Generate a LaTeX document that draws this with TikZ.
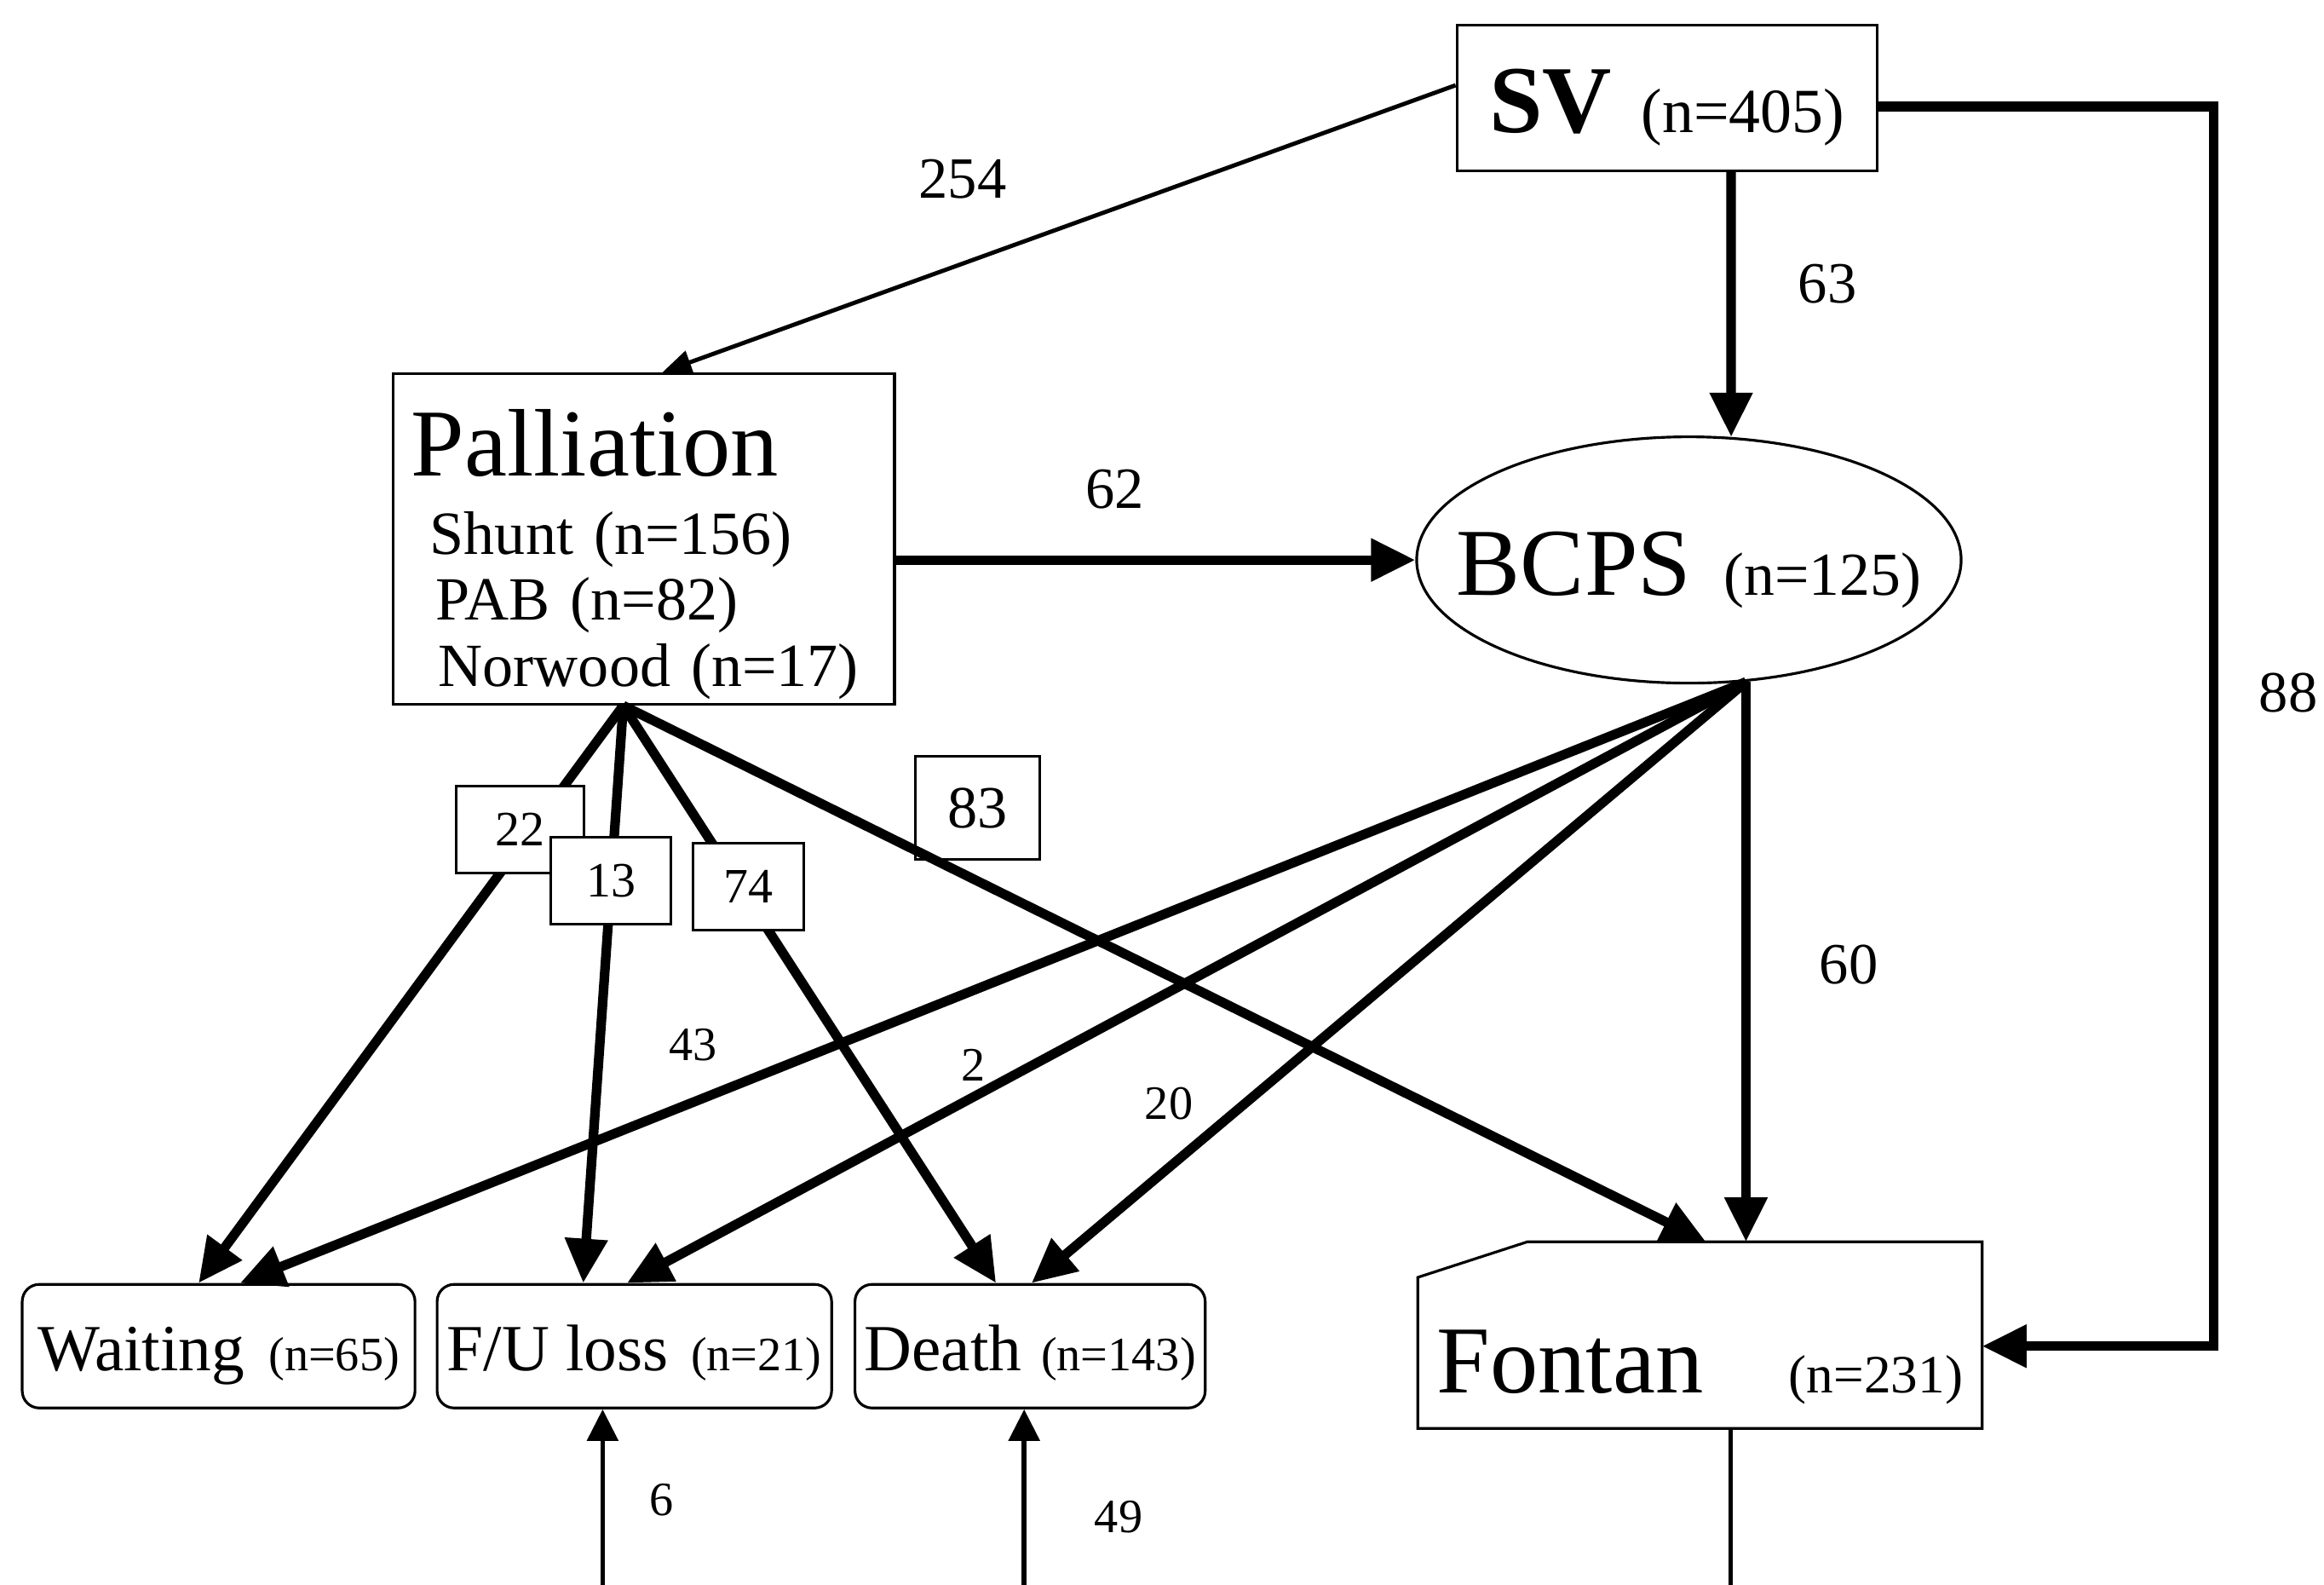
\documentclass[tikz,border=0pt]{standalone}
\usepackage{fontspec}
\setmainfont{Liberation Serif}
\usetikzlibrary{positioning,calc,arrows.meta,shapes.geometric}

\newcommand{\sizeL}{\fontsize{32}{36}\selectfont}
\newcommand{\sizeM}{\fontsize{20.5}{22}\selectfont}
\newcommand{\sizeO}{\fontsize{22}{24}\selectfont}
\newcommand{\sizeS}{\fontsize{16}{18}\selectfont}

\begin{document}
\begin{tikzpicture}[
    x=0.0174cm, y=-0.0174cm,
    font=\sizeM,
    box/.style={rectangle,draw,line width=0.9pt,inner sep=0pt},
    outcome/.style={box,rounded corners=0.2cm,minimum height=1.45cm,text height=16.2pt,text depth=0pt},
    numbox/.style={box,fill=white,minimum height=1.02cm,font=\fontsize{16.5}{18}\selectfont},
    toplbl/.style={font=\fontsize{19.5}{22}\selectfont},
    lowlbl/.style={font=\sizeS},
    heavy/.style={-{Triangle[length=0.52cm,width=0.48cm]},line width=3.2pt},
    light/.style={-{Triangle[length=0.37cm,width=0.36cm]},line width=1.6pt},
    fine/.style={-{Triangle[length=0.34cm,width=0.28cm]},line width=1.4pt}
]
\useasboundingbox (0,0) rectangle (1568,1069);

% stages
\node[box, minimum width=4.93cm, minimum height=1.71cm, text height=23.2pt, text depth=0pt] (sv) at (1124.7,65.9) {{\bfseries\sizeL SV}\hspace{9.8pt}{\fontsize{21}{24}\selectfont(n=405)}};
\node[box, minimum width=5.88cm, minimum height=3.88cm, inner xsep=0.21cm, text width=5.46cm, align=left] (pall) at (434.5,363.5) {\rule{0pt}{32.6pt}{\sizeL Palliation}\\[4.1pt]
  \hspace*{0.22cm}Shunt (n=156)\\
  \hspace*{0.29cm}PAB (n=82)\\
  \hspace*{0.32cm}Norwood (n=17)};
\node[ellipse, draw, line width=0.9pt, inner sep=0pt, minimum width=6.39cm, minimum height=2.89cm, text height=23.4pt, text depth=0pt] (bcps) at (1139.5,377.7) {\makebox[0pt]{{\sizeL BCPS}\hspace{10.9pt}{\fontsize{20.4}{22}\selectfont(n=125)}}};
\node[minimum width=6.61cm, minimum height=2.175cm, inner sep=0pt, text height=38.8pt, text depth=0pt] (fontan) at (1147,900.5) {{\sizeL Fontan}\hspace{28.6pt}{\fontsize{18}{20}\selectfont(n=231)}};
\draw[line width=0.9pt] (fontan.south west) -- ($(fontan.north west)+(0,24)$) -- ($(fontan.north west)+(74,0)$) -- (fontan.north east) -- (fontan.south east) -- cycle;

% outcomes
\node[outcome, minimum width=4.61cm] (wait) at (147.5,908) {\sizeO Waiting\hspace{8pt}\sizeS(n=65)};
\node[outcome, minimum width=4.63cm] (fuloss) at (428,908) {\sizeO F/U loss\hspace{7.5pt}\sizeS(n=21)};
\node[outcome, minimum width=4.11cm] (death) at (695,908) {\sizeO Death\hspace{6.5pt}\sizeS(n=143)};

\coordinate (pfan) at ($(pall.south)+(-14,0)$);
\coordinate (bfan) at ($(bcps.south)+(38.5,-1.7)$);
\coordinate (fuin) at (406.6,1069);
\coordinate (dein) at (691,1069);
\coordinate (fout) at (1167.6,1069);

% from SV
\draw[fine] ($(sv.west)+(0,-8.4)$) -- ($(pall.north)+(12.5,0)$);
\draw[heavy] ($(sv.south)+(43.3,0)$) -- ($(bcps.north)+(28.5,1)$);
\draw[heavy] ($(sv.east)+(0,6)$) -- ++(226.3,0) |- ($(fontan.east)+(0,7.5)$);

% from palliation
\draw[heavy] (pall.east |- bcps.west) -- (bcps.west);
\draw[heavy] (pfan) -- node[numbox, minimum width=1.5cm, pos=0.215, xshift=-0.14cm] (n22) {22} ($(wait.north)+(-13.5,0)$);
\draw[heavy] (pfan) -- node[numbox, minimum width=1.41cm, pos=0.303] (n13) {13} ($(fuloss.north)+(-34.5,0)$);
\draw[heavy] (pfan) -- node[numbox, minimum width=1.3cm, pos=0.313, xshift=0.1cm] (n74) {74} ($(death.north)+(-23,0)$);
\node[numbox, minimum width=1.46cm, minimum height=1.21cm, font=\fontsize{20}{22}\selectfont] (n83) at (659.7,545) {83};
\draw[heavy] (pfan) -- ($(fontan.north)+(4,0)$);

% from BCPS
\draw[heavy] (bfan) -- ($(wait.north)+(14.5,0)$);
\draw[heavy] (bfan) -- ($(fuloss.north)+(-5,0)$);
\draw[heavy] (bfan) -- ($(death.north)+(1,0)$);
\draw[heavy] (bfan) -- (bfan |- fontan.north);

% from below
\draw[light] (fuin) -- (fuin |- fuloss.south);
\draw[light] (dein) -- (dein |- death.south);
\draw[line width=1.6pt] (fontan.south -| fout) -- (fout);

% counts
\node[toplbl] (l254) at (649.5,120.7) {254};
\node[toplbl] (l63) at (1232.9,191.3) {63};
\node[toplbl] (l62) at (752,330) {62};
\node[toplbl] (l88) at (1544,467.5) {88};
\node[toplbl] (l60) at (1247.4,650.4) {60};
\node[lowlbl] (l43) at (467.7,705) {43};
\node[lowlbl] (l2) at (656.8,718.5) {2};
\node[lowlbl] (l20) at (788.6,744.4) {20};
\node[lowlbl] (l6) at (446.5,1011.6) {6};
\node[lowlbl] (l49) at (754.7,1023) {49};

\end{tikzpicture}
\end{document}
